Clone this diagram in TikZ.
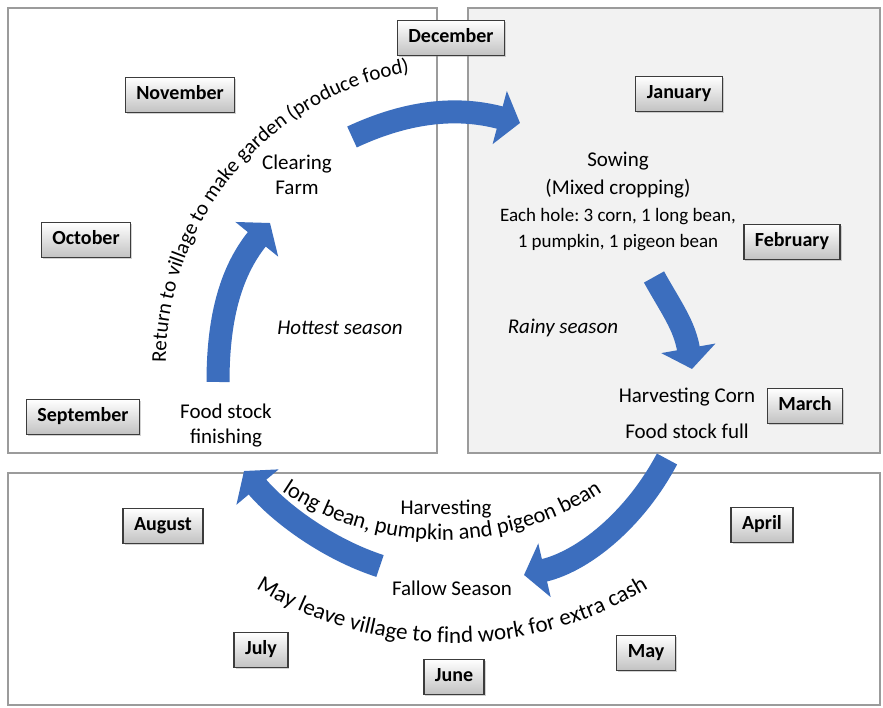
\documentclass[tikz,border=0pt]{standalone}
\usepackage{fontspec}
\setmainfont{Carlito}
\usetikzlibrary{arrows.meta,decorations.text,shadows}
\frenchspacing

\definecolor{cycleblue}{RGB}{60,110,190}
\definecolor{panelline}{RGB}{155,155,155}
\definecolor{panelgray}{RGB}{242,242,242}
\definecolor{boxline}{RGB}{60,60,60}

\begin{document}
\begin{tikzpicture}[x=1pt,y=1pt,
  panel/.style={draw=panelline, line width=2.5pt},
  month/.style={draw=boxline, line width=1.4pt, top color=white, bottom color=black!24,
    drop shadow={shadow xshift=1.5pt, shadow yshift=-1.5pt, opacity=0.35},
    font=\fontsize{20}{24}\selectfont\bfseries, minimum height=35pt,
    inner xsep=11pt, inner ysep=0pt, text height=13pt, text depth=4pt},
  stage/.style={font=\fontsize{21}{25}\selectfont, align=center, inner sep=0pt},
  season/.style={font=\fontsize{21}{25}\selectfont\itshape, inner sep=0pt},
  cyclearrow/.style={draw=cycleblue, line width=23pt, -{Triangle[width=54pt,length=21pt]}},
]
\useasboundingbox (0,0) rectangle (883,708);

% three season panels
\path[panel, fill=white] (8,255) rectangle (437,700);
\path[panel, fill=panelgray] (468,255) rectangle (880,700);
\path[panel, fill=white] (8,3) rectangle (880,235);

% ends of the cycle arrows
\coordinate (a1s) at (352,571); \coordinate (a1e) at (520,585);
\coordinate (a2s) at (218,326); \coordinate (a2e) at (270,485);
\coordinate (a3s) at (654,431); \coordinate (a3e) at (692,339);
\coordinate (a4s) at (667,249); \coordinate (a4e) at (524,133);
\coordinate (a5s) at (380,142); \coordinate (a5e) at (244,237);

\draw[cyclearrow] (a1s) .. controls +(25:55) and +(165:70) .. (a1e);
\draw[cyclearrow] (a2s) .. controls +(90:60) and +(231:65) .. (a2e);
\draw[cyclearrow] (a3s) .. controls +(-61:35) and +(100:45) .. (a3e);
\draw[cyclearrow] (a4s) .. controls +(242:70) and +(13:60) .. (a4e);
\draw[cyclearrow] (a5s) .. controls +(162:55) and +(-50:55) .. (a5e);

% activities of the year
\node[stage] (clear) at (297,533) {Clearing\\Farm};
\node[stage] (foodlow) at (226,282) {Food stock\\finishing};
\node[season] (hot) at (340,380) {Hottest season};
\node[stage, font=\fontsize{21}{28}\selectfont] (sow) at (618,533) {Sowing\\(Mixed cropping)};
\node[stage, font=\fontsize{19}{26}\selectfont] (hole) at (618,478) {Each hole: 3 corn, 1 long bean,\\1 pumpkin, 1 pigeon bean};
\node[season] (rain) at (563,380) {Rainy season};
\node[stage] (corn) at (687,311) {Harvesting Corn};
\node[stage] (full) at (687,277) {Food stock full};
\node[stage] (harv) at (446,199) {Harvesting};
\node[stage] (fallow) at (452,120) {Fallow Season};

% arched captions
\path[decorate, decoration={text along path, text align=center,
  text={|\fontsize{21}{25}\selectfont|Return to village to make garden (produce food)}}]
  ([shift={(188:294)}]460,346) arc[start angle=188, end angle=92, radius=294];
\path[decorate, decoration={text along path, text align=center,
  text={|\fontsize{22.5}{25}\selectfont|long bean, pumpkin and pigeon bean}}]
  ([shift={(228:290)}]442,458) arc[start angle=228, end angle=312, radius=290];
\path[decorate, decoration={text along path, text align=center,
  text={|\fontsize{23}{25}\selectfont|May leave village to find work for extra cash}}]
  ([shift={(230:380)}]452,445) arc[start angle=230, end angle=310, radius=380];

% months
\node[month] (dec) at (451,670) {December};
\node[month] (nov) at (180,613) {November};
\node[month] (oct) at (86,468) {October};
\node[month] (sep) at (83,291) {September};
\node[month] (jan) at (679,614) {January};
\node[month] (feb) at (792,466) {February};
\node[month] (mar) at (805,302) {March};
\node[month] (aug) at (163,182) {August};
\node[month] (apr) at (762,183) {April};
\node[month] (jul) at (261,58) {July};
\node[month] (jun) at (454,31) {June};
\node[month] (may) at (646,55) {May};
\end{tikzpicture}
\end{document}
